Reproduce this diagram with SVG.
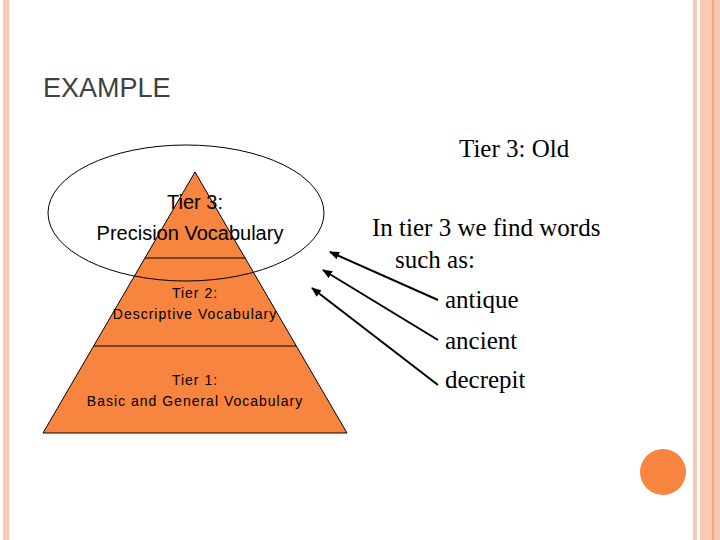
<svg xmlns="http://www.w3.org/2000/svg" width="720" height="540" viewBox="0 0 720 540">
<defs><marker id="ah" markerWidth="10" markerHeight="8" refX="9" refY="4" orient="auto" markerUnits="userSpaceOnUse"><path d="M0,0 L10,4 L0,8 Z" fill="#000"/></marker>
<style>.s{font-family:"Liberation Sans",Arial,sans-serif}.t{font-family:"Liberation Serif","Times New Roman",serif;font-size:25px}</style></defs>
<rect width="720" height="540" fill="#fff"/>
<rect x="3" y="0" width="6" height="540" fill="#fbc8b4"/>
<rect x="693" y="0" width="4" height="540" fill="#fbc8b4"/>
<rect x="700" y="0" width="20" height="540" fill="#fbc8b4"/>
<line x1="713" y1="0" x2="713" y2="540" stroke="#e8894f" stroke-width="1"/>
<text x="43" y="97" class="s" font-size="27" fill="#404040">EXAMPLE</text>
<g id="pyramid">
<polygon points="195,172 347,433 43,433" fill="#f7843f" stroke="#000" stroke-width="1"/>
<line x1="145" y1="258" x2="245" y2="258" stroke="#000"/>
<line x1="94" y1="346" x2="296" y2="346" stroke="#000"/>
<text x="195" y="209" class="s" font-size="20" text-anchor="middle">Tier 3:</text>
<text x="190" y="240" class="s" font-size="20" text-anchor="middle">Precision Vocabulary</text>
<text x="195" y="298" class="s" font-size="14" text-anchor="middle" letter-spacing="1">Tier 2:</text>
<text x="195" y="319" class="s" font-size="14" text-anchor="middle" letter-spacing="1">Descriptive Vocabulary</text>
<text x="195" y="385" class="s" font-size="14" text-anchor="middle" letter-spacing="1">Tier 1:</text>
<text x="195" y="406" class="s" font-size="14" text-anchor="middle" letter-spacing="1">Basic and General Vocabulary</text>
</g>
<g id="ellipse"><ellipse cx="186" cy="213" rx="138" ry="68" fill="none" stroke="#000" stroke-width="1"/></g>
<g id="text">
<text x="459" y="157" class="t">Tier 3:  Old</text>
<text x="372" y="236" class="t">In tier 3 we find words</text>
<text x="395" y="268" class="t">such as:</text>
<text x="445" y="308" class="t">antique</text>
<text x="445" y="349" class="t">ancient</text>
<text x="445" y="388" class="t">decrepit</text>
</g>
<g id="connectors" stroke="#000" stroke-width="2">
<line x1="438" y1="300" x2="330" y2="252" marker-end="url(#ah)"/>
<line x1="438" y1="340" x2="323" y2="270" marker-end="url(#ah)"/>
<line x1="438" y1="385" x2="312" y2="288" marker-end="url(#ah)"/>
</g>
<circle id="dot" cx="663" cy="472" r="23" fill="#f7843f"/>
</svg>
